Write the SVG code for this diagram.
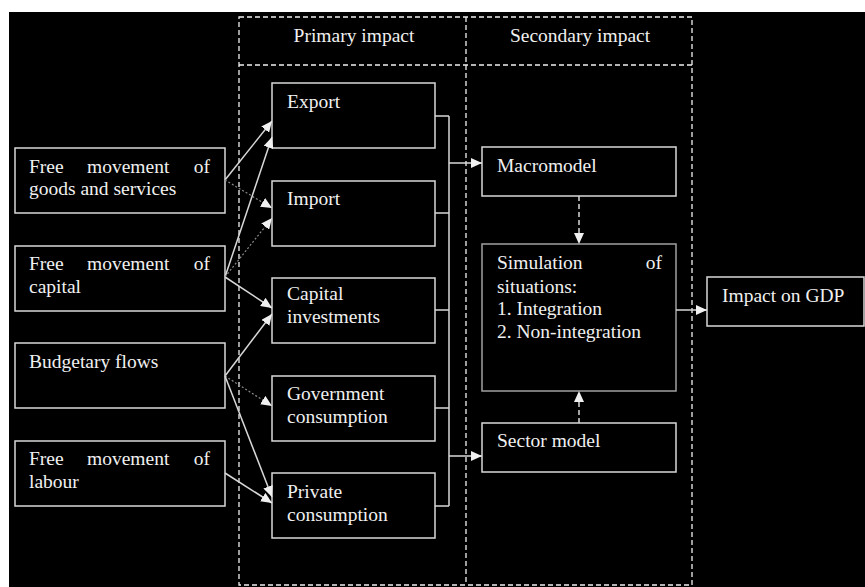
<svg xmlns="http://www.w3.org/2000/svg" width="865" height="587" viewBox="0 0 865 587">
<defs>
<style>
.bg{fill:#000}
.box{fill:#000;stroke:#d8d8d8;stroke-width:1.5}
.sim{fill:#000;stroke:#a0a0a0;stroke-width:1.5}
.frame{fill:none;stroke:#f0f0f0;stroke-width:1.3;stroke-dasharray:5 3}
.t{font-family:"Liberation Serif","Times New Roman",serif;font-size:19.5px;fill:#f0f0f0}
.c{text-anchor:middle}
.e{text-anchor:end}
.ln{fill:none;stroke:#d8d8d8;stroke-width:1.5}
.arr{fill:none;stroke:#d8d8d8;stroke-width:1.5;marker-end:url(#ah)}
.dot{fill:none;stroke:#8a8a8a;stroke-width:1.2;stroke-dasharray:2 2;marker-end:url(#ah)}
.dsh{fill:none;stroke:#d8d8d8;stroke-width:1.5;stroke-dasharray:5 3;marker-end:url(#ah)}
</style>
<marker id="ah" markerUnits="userSpaceOnUse" markerWidth="12" markerHeight="10" refX="11" refY="5" orient="auto">
<path d="M0,0 L11,5 L0,10 z" fill="#f0f0f0"/>
</marker>
</defs>
<rect x="0" y="0" width="865" height="587" fill="#fff"/>
<rect class="bg" x="9" y="12" width="856" height="575"/>

<g id="frame">
<rect class="frame" x="239" y="17" width="453" height="568"/>
<line class="frame" x1="239" y1="65" x2="692" y2="65"/>
<line class="frame" x1="466" y1="17" x2="466" y2="585"/>
<text class="t c" x="354" y="42">Primary impact</text>
<text class="t c" x="580" y="42">Secondary impact</text>
</g>

<g id="goods">
<rect class="box" x="15" y="148" width="210" height="65"/>
<text class="t" x="29" y="173">Free</text>
<text class="t" x="87" y="173">movement</text>
<text class="t e" x="210" y="173">of</text>
<text class="t" x="29" y="195">goods and services</text>
</g>
<g id="capital">
<rect class="box" x="15" y="246" width="210" height="65"/>
<text class="t" x="29" y="270">Free</text>
<text class="t" x="87" y="270">movement</text>
<text class="t e" x="210" y="270">of</text>
<text class="t" x="29" y="293">capital</text>
</g>
<g id="budget">
<rect class="box" x="15" y="343" width="210" height="65"/>
<text class="t" x="29" y="368">Budgetary flows</text>
</g>
<g id="labour">
<rect class="box" x="15" y="441" width="210" height="65"/>
<text class="t" x="29" y="465">Free</text>
<text class="t" x="87" y="465">movement</text>
<text class="t e" x="210" y="465">of</text>
<text class="t" x="29" y="488">labour</text>
</g>

<g id="export">
<rect class="box" x="272" y="83" width="163" height="65"/>
<text class="t" x="287" y="108">Export</text>
</g>
<g id="import">
<rect class="box" x="272" y="181" width="163" height="65"/>
<text class="t" x="287" y="205">Import</text>
</g>
<g id="capinv">
<rect class="box" x="272" y="278" width="163" height="65"/>
<text class="t" x="287" y="300">Capital</text>
<text class="t" x="287" y="323">investments</text>
</g>
<g id="gov">
<rect class="box" x="272" y="376" width="163" height="65"/>
<text class="t" x="287" y="400">Government</text>
<text class="t" x="287" y="423">consumption</text>
</g>
<g id="priv">
<rect class="box" x="272" y="473" width="163" height="65"/>
<text class="t" x="287" y="498">Private</text>
<text class="t" x="287" y="521">consumption</text>
</g>

<g id="macro">
<rect class="box" x="482" y="147" width="194" height="49"/>
<text class="t" x="497" y="172">Macromodel</text>
</g>
<g id="sim">
<rect class="sim" x="482" y="244" width="194" height="147"/>
<text class="t" x="497" y="269">Simulation</text>
<text class="t e" x="662" y="269">of</text>
<text class="t" x="497" y="293">situations:</text>
<text class="t" x="497" y="315">1. Integration</text>
<text class="t" x="497" y="338">2. Non-integration</text>
</g>
<g id="sector">
<rect class="box" x="482" y="423" width="194" height="49"/>
<text class="t" x="497" y="447">Sector model</text>
</g>
<g id="gdp">
<rect class="box" x="707" y="277" width="157" height="49"/>
<text class="t" x="722" y="302">Impact on GDP</text>
</g>

<g id="connectors">
<line class="arr" x1="225" y1="180" x2="272" y2="121"/>
<line class="dot" x1="225" y1="180" x2="272" y2="208"/>
<line class="arr" x1="225" y1="277" x2="272" y2="137"/>
<line class="dot" x1="225" y1="277" x2="272" y2="218"/>
<line class="arr" x1="225" y1="277" x2="272" y2="308"/>
<line class="arr" x1="225" y1="376" x2="272" y2="314"/>
<line class="dot" x1="225" y1="376" x2="272" y2="406"/>
<line class="arr" x1="225" y1="376" x2="272" y2="497"/>
<line class="arr" x1="225" y1="473" x2="272" y2="503"/>
<path class="ln" d="M435,116 H449 M435,213 H449 M435,310 H449 M435,408 H449 M435,506 H449 M449,116 V506"/>
<line class="arr" x1="449" y1="163" x2="482" y2="163"/>
<line class="arr" x1="449" y1="456" x2="482" y2="456"/>
<line class="dsh" x1="579" y1="196" x2="579" y2="244"/>
<line class="dsh" x1="579" y1="423" x2="579" y2="391"/>
<line class="arr" x1="676" y1="310" x2="707" y2="310"/>
</g>
</svg>
